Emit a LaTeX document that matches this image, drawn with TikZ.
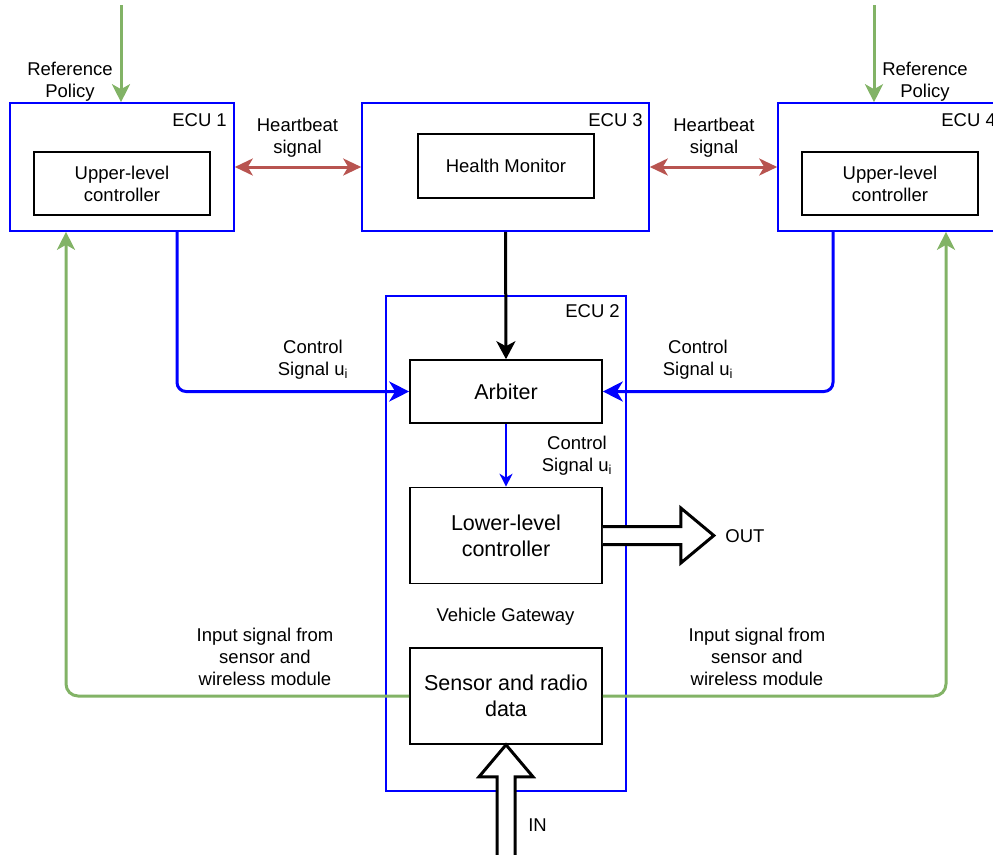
\documentclass[tikz,border=0pt]{standalone}
\usepackage{fontspec}
\setmainfont{Liberation Sans}
\usetikzlibrary{arrows.meta}
\definecolor{ecublue}{RGB}{0,0,255}
\definecolor{grn}{RGB}{130,179,102}
\definecolor{hbred}{RGB}{184,84,80}
\begin{document}
\begin{tikzpicture}[x=1pt,y=-1pt,
  txt/.style={font=\fontsize{18.5}{22}\selectfont, align=center, inner sep=0pt},
  bigtxt/.style={font=\fontsize{21.5}{26}\selectfont, align=center, inner sep=0pt},
  ecubox/.style={draw=ecublue, line width=1.6pt, inner sep=0pt},
  blk/.style={draw=black, line width=1.6pt, inner sep=0pt, fill=white},
  tipA/.style={-{Stealth[length=18pt, width=18pt, inset=5pt]}},
  greenarrow/.style={draw=grn, line width=3pt, tipA},
  hbarrow/.style={draw=hbred, line width=3pt, {Stealth[length=18pt, width=17pt, inset=5pt]}-{Stealth[length=18pt, width=17pt, inset=5pt]}},
  ctlarrow/.style={draw=ecublue, line width=3pt, -{Stealth[length=20pt, width=20pt, inset=6pt]}},
  thinarrow/.style={draw=ecublue, line width=1.5pt, -{Stealth[length=13pt, width=13pt, inset=4pt]}},
  blockarrow/.style={draw=black, line width=3pt, fill=white, line join=miter}
]
\useasboundingbox (0,0) rectangle (993,854);
\clip (0,0) rectangle (993,854);

% ECU boxes
\node[ecubox, minimum width=224pt, minimum height=128pt] (ecu1) at (122,167) {};
\node[ecubox, minimum width=287pt, minimum height=128pt] (ecu3) at (505.5,167) {};
\node[ecubox, minimum width=224pt, minimum height=128pt] (ecu4) at (890,167) {};
\node[ecubox, minimum width=240pt, minimum height=495pt] (ecu2) at (506,543.5) {};

% ECU labels
\node[txt, anchor=base east] (l1) at (227,126) {ECU 1};
\node[txt, anchor=base east] (l3) at (643,126) {ECU 3};
\node[txt, anchor=base east] (l4) at (996,126) {ECU 4};
\node[txt, anchor=base east] (l2) at (620,317) {ECU 2};

% inner boxes
\node[blk, minimum width=176pt, minimum height=63pt, txt] (up1) at (122,183.5) {Upper-level\\controller};
\node[blk, minimum width=176pt, minimum height=64pt, txt] (hm) at (506,166) {\raisebox{-2pt}{Health Monitor}};
\node[blk, minimum width=176pt, minimum height=63pt, txt] (up4) at (890,183.5) {Upper-level\\controller};
\node[blk, minimum width=192pt, minimum height=63pt, bigtxt] (arb) at (506,391.5) {Arbiter};
\node[blk, minimum width=192pt, minimum height=96pt, bigtxt] (low) at (506,535.5) {Lower-level\\controller};
\node[blk, minimum width=192pt, minimum height=96pt, bigtxt] (sen) at (506,696) {Sensor and radio\\data};

% text labels
\node[txt] (ref1) at (70,81.5) {Reference\\Policy};
\node[txt] (ref4) at (925,81.5) {Reference\\Policy};
\node[txt] (hb1) at (297.5,137.5) {Heartbeat\\signal};
\node[txt] (hb2) at (714,137.5) {Heartbeat\\signal};
\node[txt] (cs1) at (313,359.5) {Control\\Signal u\textsubscript{i}};
\node[txt] (cs4) at (698,359.5) {Control\\Signal u\textsubscript{i}};
\node[txt] (cs2) at (577,455.5) {Control\\Signal u\textsubscript{i}};
\node[txt] (vg) at (505.5,616.5) {Vehicle Gateway};
\node[txt] (in1) at (265,657) {Input signal from\\sensor and\\wireless module};
\node[txt] (in4) at (757,657) {Input signal from\\sensor and\\wireless module};
\node[txt] (outl) at (745,536) {OUT};
\node[txt] (inl) at (537.5,825) {IN};

% coordinates
\coordinate (rtop1) at (121,5);
\coordinate (rtop4) at (874,5);
\coordinate (cx1) at (177,0);
\coordinate (cx4) at (833,0);
\coordinate (gx1) at (66,0);
\coordinate (gx4) at (946,0);

% reference policy arrows
\draw[greenarrow] (rtop1) -- (rtop1 |- ecu1.north);
\draw[greenarrow] (rtop4) -- (rtop4 |- ecu4.north);

% heartbeat
\draw[hbarrow] (ecu1.east) -- (ecu3.west);
\draw[hbarrow] (ecu3.east) -- (ecu4.west);

% health monitor to arbiter
\draw[draw=black, line width=3pt, -{Stealth[length=18pt, width=19pt, inset=5pt]}] (ecu3.south) -- (arb.north);

% control signals
\draw[ctlarrow, rounded corners=9pt] (ecu1.south -| cx1) |- (arb.west);
\draw[ctlarrow, rounded corners=9pt] (ecu4.south -| cx4) |- (arb.east);
\draw[thinarrow] (arb.south) -- (low.north);

% input signal feedback
\draw[greenarrow, rounded corners=12pt] (sen.west) -| (ecu1.south -| gx1);
\draw[greenarrow, rounded corners=12pt] (sen.east) -| (ecu4.south -| gx4);

% OUT block arrow
\draw[blockarrow] (low.east) ++(0,-9) -- ++(78,0) -- ++(0,-18.5) -- ++(33,27.5) -- ++(-33,27.5) -- ++(0,-18.5) -- ++(-78,0);
% IN block arrow
\draw[blockarrow] (sen.south) -- ++(27,32) -- ++(-18,0) -- ++(0,80) -- ++(-18,0) -- ++(0,-80) -- ++(-18,0) -- cycle;
\end{tikzpicture}
\end{document}
